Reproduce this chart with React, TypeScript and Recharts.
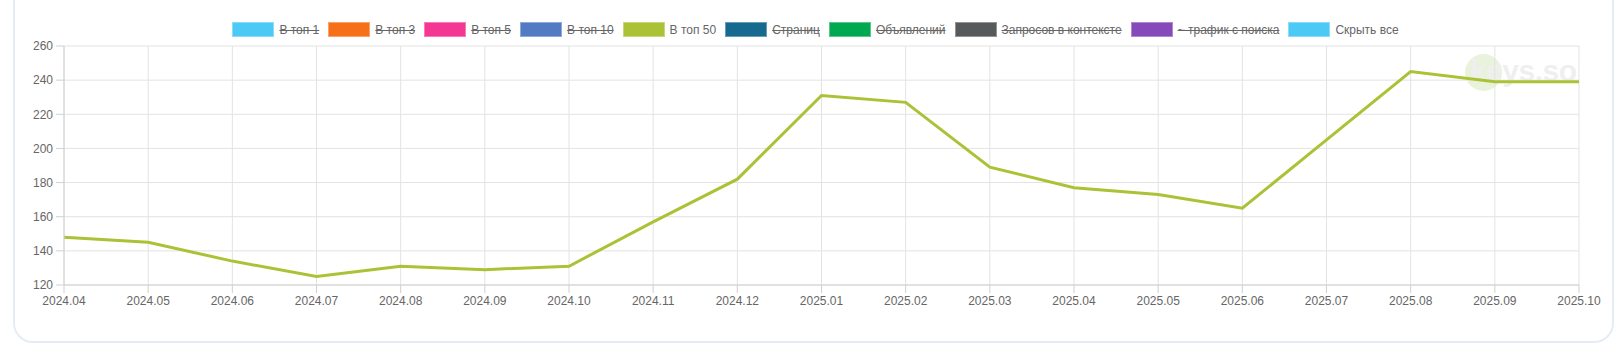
import { CartesianGrid, Line, LineChart, XAxis, YAxis } from "recharts";

const months = [
  "2024.04", "2024.05", "2024.06", "2024.07", "2024.08", "2024.09", "2024.10",
  "2024.11", "2024.12", "2025.01", "2025.02", "2025.03", "2025.04", "2025.05",
  "2025.06", "2025.07", "2025.08", "2025.09", "2025.10",
];

const top50 = [
  148, 145, 134, 125, 131, 129, 131, 157, 182, 231, 227, 189, 177, 173, 165,
  205, 245, 239, 239,
];

const yTicks = [120, 140, 160, 180, 200, 220, 240, 260];

const legendLabels = [
  "В топ 1", "В топ 3", "В топ 5", "В топ 10", "В топ 50", "Страниц",
  "Объявлений", "Запросов в контексте", "~ трафик с поиска", "Скрыть все",
];
const legendColors = [
  "#4dc9f6", "#f67019", "#f53794", "#537bc4", "#acc236", "#166a8f",
  "#00a950", "#58595b", "#8549ba", "#4dc9f6",
];
const legendHidden = [true, true, true, true, false, true, true, true, true, false];

const data = months.map((m, i) => ({ month: m, top50: top50[i] }));

const font = "'Liberation Sans', Arial, Helvetica, sans-serif";

export default function App() {
  return (
    <div style={{ position: "relative", width: 1620, height: 356, overflow: "hidden", fontFamily: font }}>
      <style>{"body{margin:0}"}</style>
      {/* рамка карточки, верх уходит за край */}
      <div
        style={{
          position: "absolute",
          left: 13,
          top: -30,
          width: 1601,
          height: 373,
          border: "2px solid #e6ecf6",
          borderRadius: 20,
          boxSizing: "border-box",
        }}
      />
      {/* водяной знак */}
      <div
        style={{
          position: "absolute",
          left: 1465,
          top: 54,
          width: 37,
          height: 37,
          borderRadius: "50%",
          background: "#e9f3dc",
        }}
      />
      <div
        style={{
          position: "absolute",
          left: 1470,
          top: 53,
          fontSize: 30,
          fontWeight: 700,
          color: "#efefef",
          lineHeight: "36px",
          letterSpacing: -0.5,
        }}
      >
        keys.so
      </div>
      <div
        style={{
          position: "absolute",
          left: 5,
          top: 22,
          width: 1630,
          display: "flex",
          justifyContent: "center",
          fontSize: 12,
          color: "#666",
        }}
      >
        {legendLabels.map((label, i) => (
          <div key={label} style={{ display: "flex", alignItems: "center", marginRight: 9 }}>
            <span
              style={{
                display: "inline-block",
                width: 42,
                height: 15,
                boxSizing: "border-box",
                background: legendColors[i],
                border: "1px solid rgba(255,255,255,0.35)",
                marginRight: 5,
              }}
            />
            <span style={{ textDecoration: legendHidden[i] ? "line-through" : "none" }}>{label}</span>
          </div>
        ))}
      </div>
      <div style={{ position: "absolute", left: 0, top: 0 }}>
        <LineChart
          width={1620}
          height={356}
          data={data}
          margin={{ top: 46, right: 41, left: 0, bottom: 41 }}
        >
          <CartesianGrid stroke="#e3e3e3" strokeWidth={1} />
          <XAxis
            dataKey="month"
            interval={0}
            height={30}
            tickSize={8}
            tickMargin={3}
            tick={{ fill: "#666", fontSize: 12, fontFamily: font }}
            axisLine={{ stroke: "#d0d0d0" }}
            tickLine={{ stroke: "#d0d0d0" }}
          />
          <YAxis
            domain={[120, 260]}
            ticks={yTicks}
            width={64}
            tickSize={8}
            tickMargin={3}
            tick={{ fill: "#666", fontSize: 12, fontFamily: font }}
            axisLine={{ stroke: "#d0d0d0" }}
            tickLine={{ stroke: "#d0d0d0" }}
          />
          <Line
            type="linear"
            dataKey="top50"
            stroke="#acc236"
            strokeWidth={3}
            dot={false}
            activeDot={false}
            isAnimationActive={false}
          />
        </LineChart>
      </div>
    </div>
  );
}
